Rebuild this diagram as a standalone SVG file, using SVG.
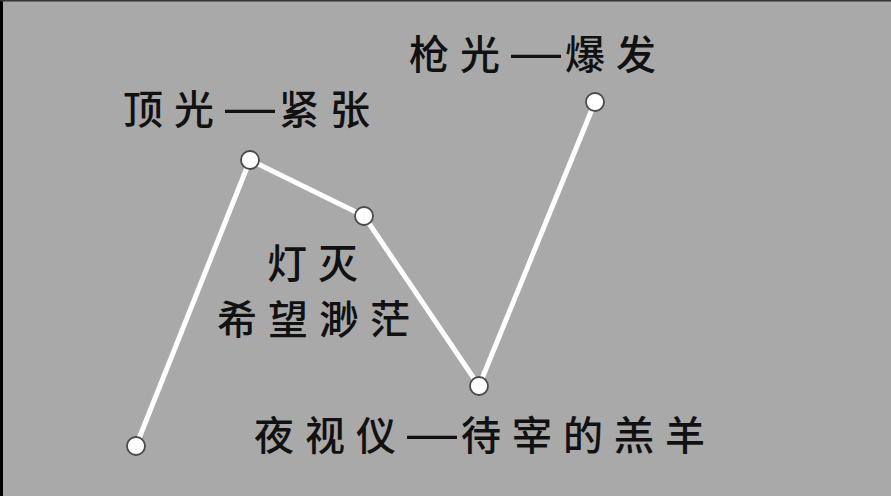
<svg xmlns="http://www.w3.org/2000/svg" width="891" height="496" viewBox="0 0 891 496">
<style>
.bg{fill:#a9a9a9}
.edge{stroke:#ffffff;stroke-width:5;fill:none;stroke-linecap:round}
.node{fill:#ffffff;stroke:#4a4a4a;stroke-width:1.8}
.lbl{font-family:"Noto Sans CJK SC","Noto Sans CJK JP",sans-serif;font-size:40px;font-weight:500;fill:#111111;letter-spacing:11px}
.dash{font-family:"Liberation Sans",sans-serif;font-weight:400;font-size:50px;letter-spacing:4px}
</style>
<rect class="bg" x="0" y="0" width="891" height="496"/>
<rect x="0" y="0" width="3" height="496" fill="#000000"/>
<rect x="0" y="0" width="891" height="1.5" fill="#333333"/>
<g id="connectors">
<polyline class="edge" points="136,446 250,160 364,216 479,386 595,102"/>
</g>
<g id="n1"><circle class="node" cx="136" cy="446" r="9"/></g>
<g id="n2"><circle class="node" cx="250" cy="160" r="9"/></g>
<g id="n3"><circle class="node" cx="364" cy="216" r="9"/></g>
<g id="n4"><circle class="node" cx="479" cy="386" r="9"/></g>
<g id="n5"><circle class="node" cx="595" cy="102" r="9"/></g>
<g id="labels">
<text class="lbl" x="123" y="124">顶光<tspan class="dash">—</tspan>紧张</text>
<text class="lbl" x="409" y="69">枪光<tspan class="dash">—</tspan>爆发</text>
<text class="lbl" x="267" y="278">灯灭</text>
<text class="lbl" x="217" y="334">希望渺茫</text>
<text class="lbl" x="254" y="450">夜视仪<tspan class="dash">—</tspan>待宰的羔羊</text>
</g>
</svg>
